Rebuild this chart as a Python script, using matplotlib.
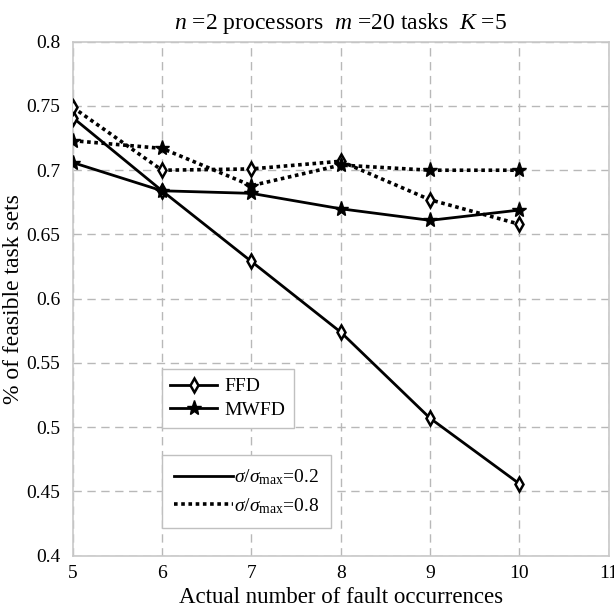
import matplotlib
matplotlib.use("Agg")
import matplotlib.pyplot as plt
from matplotlib.lines import Line2D

plt.rcParams['font.family'] = ['Liberation Serif', 'DejaVu Serif']
plt.rcParams['mathtext.fontset'] = 'custom'
plt.rcParams['mathtext.rm'] = 'Liberation Serif'
plt.rcParams['mathtext.it'] = 'Liberation Serif:italic'
plt.rcParams['mathtext.bf'] = 'Liberation Serif:bold'

# Fault occurrences on the x axis
faults = [5, 6, 7, 8, 9, 10]

# Fraction of feasible task sets, sigma/sigma_max = 0.2
ffd_02 = [0.741, 0.684, 0.629, 0.574, 0.507, 0.456]
mwfd_02 = [0.706, 0.684, 0.682, 0.670, 0.661, 0.669]

# Fraction of feasible task sets, sigma/sigma_max = 0.8
ffd_08 = [0.749, 0.700, 0.701, 0.707, 0.677, 0.658]
mwfd_08 = [0.723, 0.717, 0.688, 0.704, 0.700, 0.700]

x_ticks = [5, 6, 7, 8, 9, 10, 11]
y_ticks = [0.4, 0.45, 0.5, 0.55, 0.6, 0.65, 0.7, 0.75, 0.8]
y_ticklabels = ['0.4', '0.45', '0.5', '0.55', '0.6', '0.65', '0.7', '0.75', '0.8']

fig = plt.figure(figsize=(6.14, 6.10), dpi=100)
ax = fig.add_axes([0.1184, 0.089, 0.8730, 0.8426])

lw = 2.0
dotted = (0, (1, 1))
diamond = dict(marker='d', markersize=7.5, markerfacecolor='white',
               markeredgecolor='black', markeredgewidth=1.8)
star = dict(marker='*', markersize=11, markerfacecolor='black',
            markeredgecolor='black')

ax.plot(faults, ffd_02, color='black', lw=lw, ls='-', **diamond, zorder=3)
ax.plot(faults, mwfd_02, color='black', lw=lw, ls='-', **star, zorder=3)
ax.plot(faults, ffd_08, color='black', lw=2.6, ls=dotted, **diamond, zorder=3)
ax.plot(faults, mwfd_08, color='black', lw=2.6, ls=dotted, **star, zorder=3)

ax.set_xlim(5, 11)
ax.set_ylim(0.4, 0.8)
ax.set_xticks(x_ticks)
ax.set_yticks(y_ticks)
ax.set_yticklabels(y_ticklabels)
ax.tick_params(axis='x', length=0, labelsize=14, pad=7)
ax.tick_params(axis='y', length=0, labelsize=14, pad=9)
ax.grid(True, color='#b8b8b8', ls=(0, (6, 4)), lw=1.0)
for s in ax.spines.values():
    s.set_color('#c8c8c8')
    s.set_linewidth(1.2)

ax.set_xlabel('Actual number of fault occurrences', fontsize=16.5, labelpad=3)
ax.set_ylabel('% of feasible task sets', fontsize=17, labelpad=2)
ax.set_title(r'$n$ =2 processors  $m$ =20 tasks  $K$ =5', fontsize=17, pad=9)

# Algorithm legend
alg_handles = [
    Line2D([], [], color='black', lw=lw, **diamond),
    Line2D([], [], color='black', lw=lw, **star),
]
leg1 = ax.legend(alg_handles, ['FFD', 'MWFD'], loc='upper left',
                 bbox_to_anchor=(0.166, 0.363), borderaxespad=0,
                 fontsize=14, handlelength=2.4, fancybox=False,
                 edgecolor='#c0c0c0', framealpha=1, labelspacing=0.3,
                 handletextpad=0.4, borderpad=0.45)
leg1.get_frame().set_linewidth(1.0)
ax.add_artist(leg1)

# Variance legend
sig_handles = [
    Line2D([], [], color='black', lw=lw, ls='-'),
    Line2D([], [], color='black', lw=2.6, ls=dotted),
]
leg2 = ax.legend(sig_handles,
                 [r'$\sigma/\sigma_{\rm max}$=0.2', r'$\sigma/\sigma_{\rm max}$=0.8'],
                 loc='upper left', bbox_to_anchor=(0.166, 0.196), borderaxespad=0,
                 fontsize=14, handlelength=3.0, fancybox=False,
                 edgecolor='#c0c0c0', framealpha=1, labelspacing=0.45,
                 handletextpad=0.05, borderpad=0.65)
leg2.get_frame().set_linewidth(1.0)

fig.savefig('out.png', dpi=100)
